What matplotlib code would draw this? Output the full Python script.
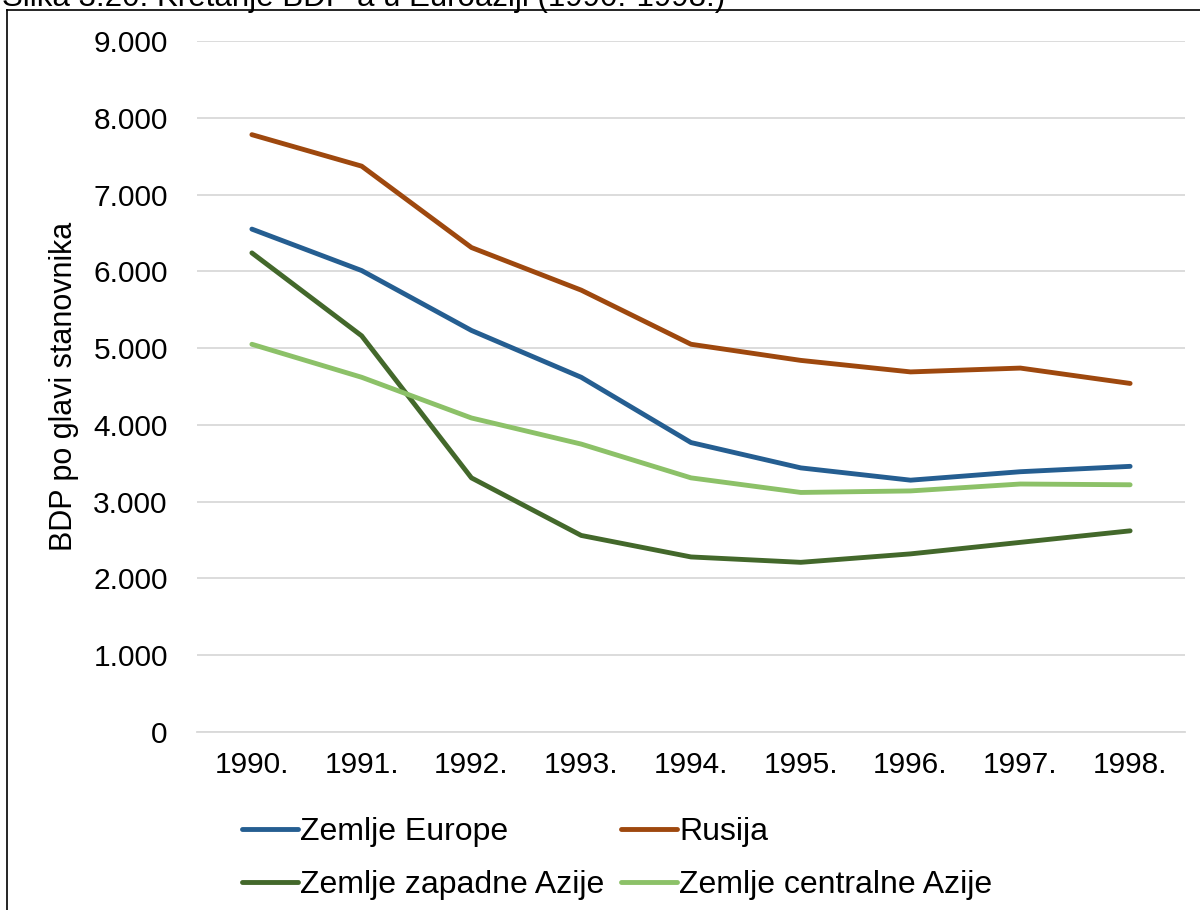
import matplotlib
matplotlib.use("Agg")
import matplotlib.pyplot as plt
from matplotlib.lines import Line2D

plt.rcParams['font.family'] = ['Liberation Sans', 'DejaVu Sans']

years = ["1990.", "1991.", "1992.", "1993.", "1994.", "1995.", "1996.", "1997.", "1998."]
europe = [6550, 6010, 5230, 4620, 3770, 3440, 3280, 3390, 3460]
rusija = [7780, 7370, 6310, 5755, 5050, 4840, 4690, 4740, 4540]
zapadna_azija = [6240, 5160, 3310, 2560, 2280, 2210, 2320, 2470, 2620]
centralna_azija = [5050, 4620, 4090, 3750, 3310, 3120, 3140, 3230, 3220]

labels = ["Zemlje Europe", "Rusija", "Zemlje zapadne Azije", "Zemlje centralne Azije"]
colors = ["#255E91", "#9E480E", "#43682B", "#8CC168"]
yticks = [0, 1000, 2000, 3000, 4000, 5000, 6000, 7000, 8000, 9000]

fig = plt.figure(figsize=(12, 9.1), dpi=100)
W, H = 1200, 910
ax = fig.add_axes([197 / W, 1 - 732 / H, (1185 - 197) / W, (732 - 41) / H])

x = list(range(len(years)))
handles = []
for series, lab, col in zip([europe, rusija, zapadna_azija, centralna_azija], labels, colors):
    h, = ax.plot(x, series, color=col, lw=3.5, label=lab, solid_capstyle='round', solid_joinstyle='round')
    handles.append(h)

ax.set_xlim(-0.5, len(years) - 0.5)
ax.set_ylim(0, 9000)
ax.set_yticks(yticks)
ax.set_yticklabels(["0" if v == 0 else f"{v // 1000}.{v % 1000:03d}" for v in yticks])
ax.set_xticks(x)
ax.set_xticklabels(years)
ax.grid(axis='y', color='#D9D9D9', lw=1.3)
ax.set_axisbelow(True)
for s in ["top", "right", "left"]:
    ax.spines[s].set_visible(False)
ax.spines["bottom"].set_color('#D9D9D9')
ax.spines["bottom"].set_linewidth(1.3)
ax.tick_params(axis='y', length=0, pad=21, labelsize=21.5)
ax.tick_params(axis='x', length=0, pad=14, labelsize=21.5)
ax.set_ylabel("BDP po glavi stanovnika", fontsize=22, labelpad=10)

# order so that rows read: Europe, Rusija / zapadne, centralne
order = [0, 2, 1, 3]
leg = fig.legend(handles=[handles[i] for i in order], labels=[labels[i] for i in order],
                 loc='upper left', bbox_to_anchor=(226 / W, 1 - 801 / H),
                 ncol=2, frameon=False, fontsize=23, handlelength=1.75, handletextpad=0.08,
                 columnspacing=0.5, labelspacing=0.72, borderpad=0)

# outer frame
fig.add_artist(Line2D([7 / W, 7 / W], [0, 1 - 10 / H], color='black', lw=1.2, transform=fig.transFigure))
fig.add_artist(Line2D([7 / W, 1], [1 - 10 / H, 1 - 10 / H], color='black', lw=1.2, transform=fig.transFigure))

fig.text(2 / W, 1 - 6 / H, "Slika 3.20: Kretanje BDP-a u Euroaziji (1990.-1998.)", fontsize=22.5,
         ha='left', va='baseline')

fig.savefig("out.png", dpi=100)
